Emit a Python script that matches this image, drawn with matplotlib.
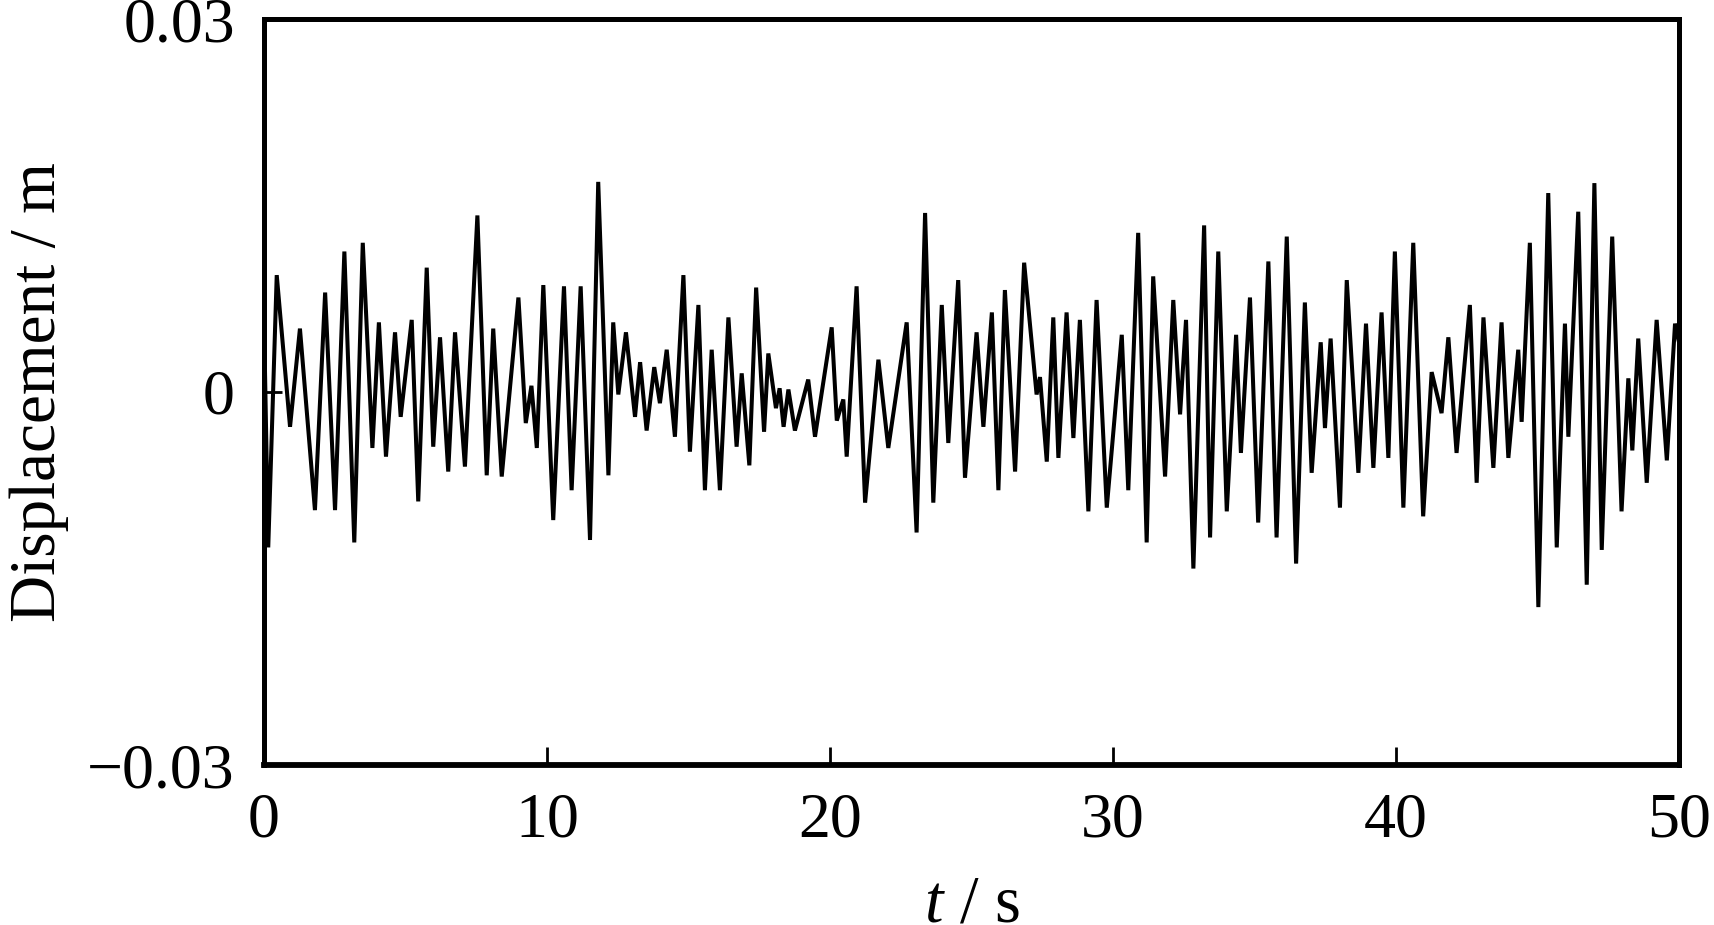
import matplotlib
matplotlib.use("Agg")
import matplotlib.pyplot as plt

plt.rcParams['font.family'] = ['Liberation Serif', 'DejaVu Serif']
plt.rcParams['mathtext.fontset'] = 'custom'
plt.rcParams['mathtext.it'] = 'Liberation Serif:italic'
plt.rcParams['mathtext.rm'] = 'Liberation Serif'

# time of each turning point of the record (s)
t = [0.0, 0.15, 0.45, 0.92, 1.27, 1.80, 2.16, 2.51, 2.84, 3.19,
     3.49, 3.83, 4.06, 4.31, 4.63, 4.83, 5.22, 5.45, 5.75, 5.98,
     6.22, 6.51, 6.75, 7.10, 7.54, 7.87, 8.10, 8.40, 8.99, 9.25,
     9.45, 9.64, 9.87, 10.22,
     10.60, 10.87, 11.19, 11.52, 11.81, 12.17, 12.34, 12.52, 12.79, 13.11,
     13.29, 13.52, 13.79, 13.99, 14.23, 14.52, 14.82, 15.05, 15.35, 15.58,
     15.82, 16.11, 16.41, 16.70, 16.88, 17.15, 17.39, 17.67, 17.82, 18.09,
     18.22, 18.36, 18.53, 18.76, 19.23, 19.47, 20.06, 20.24,
     20.47, 20.59, 20.94, 21.24, 21.71, 22.06, 22.71, 23.06, 23.36, 23.65,
     23.95, 24.18, 24.53, 24.77, 25.18, 25.42, 25.72, 25.95, 26.18, 26.54,
     26.86, 27.30, 27.42, 27.66, 27.89, 28.07, 28.36, 28.60, 28.83, 29.13,
     29.42, 29.78, 30.31,
     30.54, 30.89, 31.19, 31.42, 31.84, 32.13, 32.37, 32.58, 32.84, 33.22,
     33.43, 33.72, 34.02, 34.35, 34.52, 34.84, 35.13, 35.49, 35.78, 36.14,
     36.47, 36.78, 37.02, 37.34, 37.49, 37.69, 38.02, 38.26, 38.67, 38.94,
     39.20, 39.49, 39.73, 39.96, 40.26,
     40.61, 40.96, 41.26, 41.61, 41.85, 42.14, 42.61, 42.85, 43.09, 43.44,
     43.73, 43.97, 44.32, 44.44, 44.73, 45.03, 45.38, 45.68, 45.97, 46.09,
     46.44, 46.74, 47.01, 47.27, 47.64, 47.97, 48.21, 48.35, 48.56, 48.86,
     49.21, 49.57, 49.86, 50.0]

# displacement at those points (m)
disp = [0.0060, -0.0125, 0.0094, -0.0028, 0.0051, -0.0095, 0.0080, -0.0095, 0.0113, -0.0121,
        0.0120, -0.0045, 0.0056, -0.0052, 0.0048, -0.0020, 0.0058, -0.0088, 0.0100, -0.0044,
        0.0044, -0.0064, 0.0048, -0.0060, 0.0142, -0.0067, 0.0051, -0.0068, 0.0076, -0.0025,
        0.0005, -0.0045, 0.0086, -0.0103,
        0.0085, -0.0079, 0.0085, -0.0119, 0.0169, -0.0067, 0.0056, -0.0002, 0.0048, -0.0020,
        0.0024, -0.0031, 0.0020, -0.0009, 0.0034, -0.0036, 0.0094, -0.0048, 0.0070, -0.0079,
        0.0034, -0.0079, 0.0060, -0.0044, 0.0015, -0.0059, 0.0084, -0.0032, 0.0031, -0.0013,
        0.0003, -0.0028, 0.0002, -0.0031, 0.0010, -0.0036, 0.0052, -0.0023,
        -0.0006, -0.0052, 0.0085, -0.0089, 0.0026, -0.0045, 0.0056, -0.0113, 0.0144, -0.0089,
        0.0070, -0.0041, 0.0090, -0.0069, 0.0048, -0.0028, 0.0064, -0.0079, 0.0082, -0.0064,
        0.0104, -0.0002, 0.0012, -0.0056, 0.0060, -0.0053, 0.0064, -0.0037, 0.0058, -0.0096,
        0.0074, -0.0093, 0.0046,
        -0.0079, 0.0128, -0.0121, 0.0093, -0.0068, 0.0074, -0.0018, 0.0058, -0.0142, 0.0134,
        -0.0117, 0.0113, -0.0096, 0.0046, -0.0049, 0.0076, -0.0105, 0.0105, -0.0117, 0.0125,
        -0.0138, 0.0072, -0.0065, 0.0040, -0.0029, 0.0043, -0.0093, 0.0090, -0.0065, 0.0055,
        -0.0061, 0.0064, -0.0053, 0.0113, -0.0093,
        0.0120, -0.0100, 0.0016, -0.0017, 0.0044, -0.0049, 0.0070, -0.0073, 0.0060, -0.0061,
        0.0056, -0.0053, 0.0034, -0.0024, 0.0120, -0.0173, 0.0160, -0.0125, 0.0055, -0.0036,
        0.0145, -0.0155, 0.0168, -0.0127, 0.0125, -0.0096, 0.0011, -0.0047, 0.0043, -0.0073,
        0.0058, -0.0055, 0.0055, 0.0040]

xticks = [0, 10, 20, 30, 40, 50]
yticks = [-0.03, 0, 0.03]
ytick_labels = ['\u22120.03', '0', '0.03']

fig = plt.figure(figsize=(17.15, 9.25), dpi=100)
ax = fig.add_axes([264 / 1715, 1 - 765 / 925, (1679 - 264) / 1715, (765 - 19) / 925])

ax.plot(t, disp, color='black', lw=2.9, solid_joinstyle='bevel')

ax.set_xlim(0, 50)
ax.set_ylim(-0.03, 0.03)
ax.set_xticks(xticks)
ax.set_yticks(yticks)
ax.set_yticklabels(ytick_labels)
ax.tick_params(direction='in', length=13, width=2, labelsize=46)
ax.tick_params(axis='x', pad=20)
ax.tick_params(axis='y', pad=21)

for side in ['left', 'top', 'right']:
    ax.spines[side].set_linewidth(3.6)
ax.spines['bottom'].set_linewidth(4.2)

ax.set_xlabel(r'$t$ / s', fontsize=48, labelpad=17)
ax.set_ylabel('Displacement / m', fontsize=47, labelpad=13)

fig.savefig('out.png', dpi=100)
